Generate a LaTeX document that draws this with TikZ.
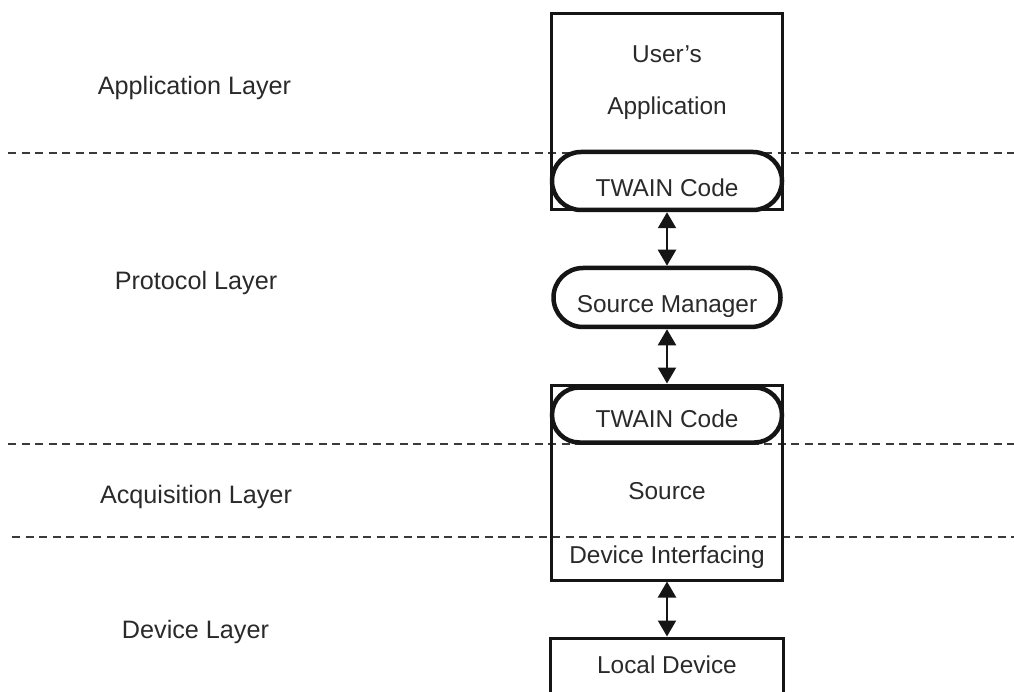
\documentclass[tikz,border=0pt]{standalone}
\usepackage{fontspec}
\setmainfont{Liberation Sans}
\usetikzlibrary{arrows.meta}
\definecolor{ink}{HTML}{151515}
\definecolor{txt}{HTML}{2A2A2A}
\definecolor{dashc}{HTML}{3A3A3A}
\begin{document}
\begin{tikzpicture}[x=1pt,y=-1pt,
  lbl/.style={text=txt, font=\fontsize{24.4}{28}\selectfont, anchor=base, inner sep=0pt},
  layerlbl/.style={lbl, font=\fontsize{25.2}{29}\selectfont},
  boxr/.style={draw=ink, line width=3pt, inner sep=0pt},
  pill/.style={draw=ink, line width=4.5pt, fill=white, inner sep=0pt},
  sep/.style={draw=dashc, line width=1.5pt, dash pattern=on 8pt off 5.5pt},
  biarrow/.style={draw=ink, line width=2.2pt, {Triangle[width=18pt,length=16pt]}-{Triangle[width=18pt,length=16pt]}}
]
\clip (0,0) rectangle (1014,692);
\fill[white] (0,0) rectangle (1014,692);

% layer separators
\coordinate (d1l) at (8,153);  \coordinate (d1r) at (1014,153);
\coordinate (d2l) at (8,444);  \coordinate (d2r) at (1014,444);
\coordinate (d3l) at (12,537); \coordinate (d3r) at (1014,537);
\draw[sep] (d1l) -- (d1r);
\draw[sep] (d2l) -- (d2r);
\draw[sep] (d3l) -- (d3r);

% boxes
\node[boxr, minimum width=231pt, minimum height=196pt] (app) at (667,112) {};
\node[boxr, minimum width=231pt, minimum height=195pt] (src) at (667,482.5) {};
\node[boxr, minimum width=233pt, minimum height=82pt] (loc) at (667,679) {};

% pills
\node[pill, rounded corners=29pt, minimum width=230pt, minimum height=58pt] (tw1) at (667,181) {};
\node[pill, rounded corners=29.5pt, minimum width=227pt, minimum height=59pt] (sm) at (667,297.5) {};
\node[pill, rounded corners=27.5pt, minimum width=230pt, minimum height=55pt] (tw2) at (667,415) {};

% texts in boxes
\node[lbl] (t-user) at (667,63) {User’s};
\node[lbl] (t-app) at (667,115) {Application};
\node[lbl] (t-tw1) at (667,197) {TWAIN Code};
\node[lbl] (t-sm) at (667,313) {Source Manager};
\node[lbl] (t-tw2) at (667,427) {TWAIN Code};
\node[lbl] (t-src) at (667,499) {Source};
\node[lbl] (t-dev) at (667,563) {Device Interfacing};
\node[lbl] (t-loc) at (667,673) {Local Device};

% layer labels
\node[layerlbl] (l-app) at (194.5,95) {Application Layer};
\node[layerlbl] (l-pro) at (196,290) {Protocol Layer};
\node[layerlbl] (l-acq) at (196,503) {Acquisition Layer};
\node[layerlbl] (l-dev) at (195.5,638) {Device Layer};

% connectors
\draw[biarrow] (tw1.south) -- (sm.north);
\draw[biarrow] (sm.south) -- (src.north);
\draw[biarrow] (src.south) -- (loc.north);
\end{tikzpicture}
\end{document}
